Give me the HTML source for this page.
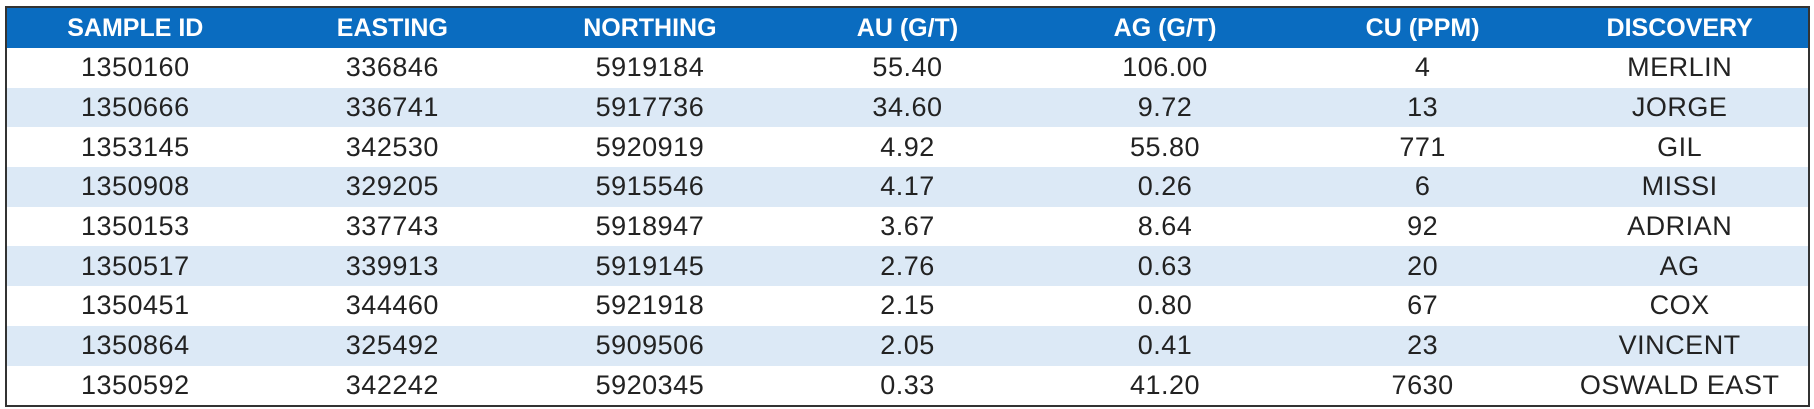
<!DOCTYPE html>
<html><head><style>
body{margin:0;width:1814px;height:409px;background:#fff;overflow:hidden}
table{position:absolute;left:5px;top:6px;width:1805px;border-collapse:collapse;border:2px solid #333;table-layout:fixed;font-family:"Liberation Sans",sans-serif}
th{background:#0a6cc0;color:#fff;font-size:25px;font-weight:bold;height:40px;padding:0;text-align:center}
td{font-size:27px;color:#222;height:39.7px;padding:0;text-align:center;font-weight:normal;letter-spacing:0.5px}
tr:nth-child(odd) td{background:#dce9f6}
</style></head><body>
<table>
<tr><th>SAMPLE ID</th><th>EASTING</th><th>NORTHING</th><th>AU (G/T)</th><th>AG (G/T)</th><th>CU (PPM)</th><th>DISCOVERY</th></tr>
<tr><td>1350160</td><td>336846</td><td>5919184</td><td>55.40</td><td>106.00</td><td>4</td><td>MERLIN</td></tr>
<tr><td>1350666</td><td>336741</td><td>5917736</td><td>34.60</td><td>9.72</td><td>13</td><td>JORGE</td></tr>
<tr><td>1353145</td><td>342530</td><td>5920919</td><td>4.92</td><td>55.80</td><td>771</td><td>GIL</td></tr>
<tr><td>1350908</td><td>329205</td><td>5915546</td><td>4.17</td><td>0.26</td><td>6</td><td>MISSI</td></tr>
<tr><td>1350153</td><td>337743</td><td>5918947</td><td>3.67</td><td>8.64</td><td>92</td><td>ADRIAN</td></tr>
<tr><td>1350517</td><td>339913</td><td>5919145</td><td>2.76</td><td>0.63</td><td>20</td><td>AG</td></tr>
<tr><td>1350451</td><td>344460</td><td>5921918</td><td>2.15</td><td>0.80</td><td>67</td><td>COX</td></tr>
<tr><td>1350864</td><td>325492</td><td>5909506</td><td>2.05</td><td>0.41</td><td>23</td><td>VINCENT</td></tr>
<tr><td>1350592</td><td>342242</td><td>5920345</td><td>0.33</td><td>41.20</td><td>7630</td><td>OSWALD EAST</td></tr>
</table>
</body></html>
